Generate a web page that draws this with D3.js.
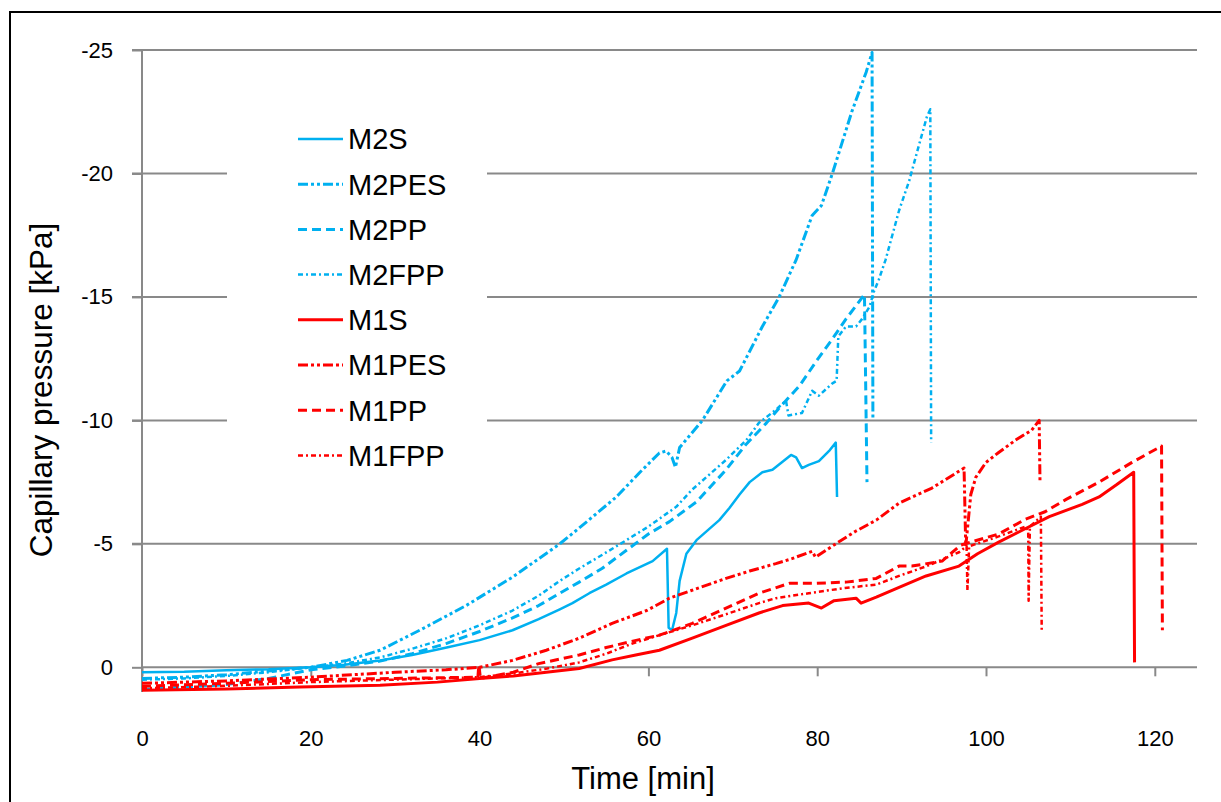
<!DOCTYPE html>
<html><head><meta charset="utf-8">
<script src="https://cdn.jsdelivr.net/npm/d3@7"></script>
<style>html,body{margin:0;padding:0;background:#fff;overflow:hidden}svg{display:block}</style>
</head><body>
<svg id="chart" width="1221" height="802"></svg>
<script>
// ---- data (time [min], capillary pressure [kPa]) ----
const xTicks = [0, 20, 40, 60, 80, 100, 120];
const yTicks = [-25, -20, -15, -10, -5, 0];
const seriesNames = ["M2S", "M2PES", "M2PP", "M2FPP", "M1S", "M1PES", "M1PP", "M1FPP"];

const m2s = [[0,0.2],[5,0.18],[10,0.12],[15,0.08],[20,0.0],[24,-0.1],[28.2,-0.28],[32,-0.5],[36.1,-0.8],[40,-1.1],[43.9,-1.5],[47,-1.95],[49.5,-2.35],[51,-2.6],[53,-3.0],[55,-3.35],[57.4,-3.8],[60.5,-4.3],[62.2,-4.8],[62.4,-1.6],[62.8,-1.5],[63.3,-2.2],[63.7,-3.5],[64.5,-4.6],[65.7,-5.15],[68.4,-5.96],[69.6,-6.45],[70.8,-7.0],[72,-7.5],[73.5,-7.9],[74.7,-8.0],[76.9,-8.6],[77.5,-8.5],[78.2,-8.07],[79,-8.2],[80.2,-8.35],[81.5,-8.8],[82.2,-9.1],[82.35,-6.9]];
const m2pes = [[0,0.45],[5,0.4],[10,0.3],[15,0.15],[20,0.0],[24.3,-0.28],[28.2,-0.69],[32.9,-1.5],[38.4,-2.5],[43.9,-3.65],[49.5,-5.0],[51.8,-5.64],[56.2,-6.9],[59,-7.9],[61.3,-8.68],[62.1,-8.76],[62.8,-8.5],[63.2,-8.1],[63.7,-8.9],[66.4,-10.0],[69.3,-11.6],[70.8,-12.0],[72,-12.8],[73.5,-13.8],[75.5,-15.0],[77.5,-16.5],[79.4,-18.3],[80.5,-18.7],[81.8,-20.0],[84.1,-22.5],[85.8,-24.1],[86.5,-24.9],[86.6,-10.1]];
const m2pp = [[0,0.9],[5,0.8],[10,0.7],[15,0.45],[20,0.1],[24,-0.05],[28.2,-0.25],[32,-0.55],[36.1,-0.97],[40,-1.45],[43.9,-2.0],[47,-2.5],[49.5,-3.0],[51.8,-3.45],[54.5,-4.0],[57.4,-4.74],[60,-5.4],[62.5,-5.9],[65.7,-6.7],[69.2,-8.0],[71.5,-9.0],[74,-9.9],[75.5,-10.5],[77.9,-11.4],[79.9,-12.4],[81.8,-13.3],[83.4,-14.1],[85.6,-15.1],[85.9,-7.5]];
const m2fpp = [[0,0.5],[5,0.45],[10,0.35],[15,0.2],[20,0.0],[24,-0.15],[28.2,-0.4],[32,-0.75],[36.1,-1.18],[40,-1.7],[43.9,-2.3],[47,-2.9],[49.5,-3.5],[51.8,-4.0],[54.5,-4.55],[57.4,-5.15],[60,-5.7],[63.3,-6.5],[65.2,-7.2],[69.2,-8.4],[71.6,-9.2],[73.1,-9.9],[75,-10.4],[76.3,-10.8],[76.6,-10.2],[78.2,-10.3],[79.4,-11.2],[80.2,-11.0],[81.8,-11.5],[82.3,-11.6],[82.5,-13.4],[83.4,-13.8],[84.6,-13.8],[85.3,-14.1],[86.2,-14.6],[86.7,-15.2],[87.3,-15.7],[88.1,-16.5],[89.7,-18.5],[90.9,-19.7],[92.1,-21.2],[93,-22.3],[93.4,-22.6],[93.5,-9.1]];
const m1s = [[0,0.93],[10,0.88],[18.7,0.8],[28.2,0.73],[35,0.6],[40,0.45],[44,0.35],[47.9,0.2],[51.8,0.05],[55.7,-0.3],[58.5,-0.5],[61.3,-0.69],[65.2,-1.18],[69.2,-1.7],[73.1,-2.2],[75.9,-2.5],[79,-2.6],[80.5,-2.4],[82,-2.7],[84.6,-2.8],[85.2,-2.6],[87,-2.84],[89.7,-3.24],[92.9,-3.7],[96.8,-4.1],[99,-4.6],[101.5,-5.07],[104,-5.5],[107.5,-6.1],[111.4,-6.6],[113.4,-6.9],[115.5,-7.4],[117.5,-7.9],[117.6,-0.2]];
const m1pes = [[0,0.65],[10,0.55],[20,0.4],[30,0.2],[36,0.1],[40,0.0],[43.9,-0.28],[47.9,-0.69],[51.8,-1.18],[55.7,-1.78],[59.8,-2.3],[62.5,-2.8],[65,-3.1],[69.2,-3.6],[72,-3.9],[75.1,-4.2],[77,-4.4],[79.4,-4.7],[79.8,-4.46],[82.2,-5.0],[84.5,-5.5],[87,-5.96],[89.7,-6.65],[93.6,-7.26],[97.4,-8.07],[97.6,-4.9],[98.2,-7.0],[98.8,-7.7],[100,-8.3],[101.5,-8.7],[103.5,-9.2],[105.4,-9.6],[106.3,-10.0],[106.4,-7.5]];
const m1pp = [[0,0.77],[10,0.65],[20,0.5],[30,0.45],[39.8,0.4],[39.9,-0.1],[40.1,0.45],[44,0.2],[47,-0.15],[51.8,-0.5],[55,-0.8],[58,-1.05],[61.3,-1.3],[65.2,-1.78],[69.2,-2.4],[73.1,-3.0],[76.7,-3.4],[79.9,-3.4],[83.4,-3.45],[87,-3.6],[89.7,-4.1],[91.2,-4.1],[94.8,-4.3],[97,-4.95],[101.5,-5.4],[104.7,-6.0],[107,-6.3],[109.5,-6.8],[113.4,-7.5],[117.3,-8.3],[120.8,-8.96],[120.9,-1.5]];
const m1fpp = [[0,0.85],[10,0.75],[20,0.6],[30,0.5],[40,0.4],[44,0.25],[48,0.05],[51.8,-0.2],[55,-0.55],[58,-0.95],[61.3,-1.3],[65.2,-1.7],[69.2,-2.15],[73.1,-2.6],[75.1,-2.8],[79,-3.0],[83,-3.2],[87,-3.35],[89.7,-3.7],[93,-4.1],[96.8,-4.66],[97.7,-4.9],[97.8,-3.1],[98,-4.9],[101.5,-5.3],[104.7,-5.7],[105,-5.55],[105.05,-2.7],[105.2,-5.7],[106.5,-6.1],[106.6,-1.5]];

const seriesData = [m2s, m2pes, m2pp, m2fpp, m1s, m1pes, m1pp, m1fpp];
const BLUE = "#00B0F0", RED = "#FF0000";
const styles = [
  {c: BLUE, w: 2.5, d: null},
  {c: BLUE, w: 3, d: "10,3,3,3,3,3"},
  {c: BLUE, w: 3, d: "9,5"},
  {c: BLUE, w: 2.5, d: "5,3,2,3"},
  {c: RED, w: 3, d: null},
  {c: RED, w: 3, d: "10,3,3,3,3,3"},
  {c: RED, w: 3, d: "9,5"},
  {c: RED, w: 2.5, d: "5,3,2,3"}
];

// ---- drawing ----
const svg = d3.select("#chart");
const FONT = "'Liberation Sans', Arial, sans-serif";
const x = d3.scaleLinear().domain([0, 125]).range([142, 1197]);
const y = d3.scaleLinear().domain([-25, 1]).range([50, 692]);
const GRID = "#898989";

// outer frame
svg.append("rect").attr("x", 10).attr("y", 12).attr("width", 1400).attr("height", 1000)
  .attr("fill", "none").attr("stroke", "#000").attr("stroke-width", 2);

// horizontal gridlines (except 0, which is the x axis)
svg.append("g").selectAll("line").data(yTicks.filter(v => v !== 0)).join("line")
  .attr("x1", 132).attr("x2", x(125)).attr("y1", d => y(d)).attr("y2", d => y(d))
  .attr("stroke", GRID).attr("stroke-width", 2);

// y axis
const yAxis = d3.axisLeft(y).tickValues(yTicks).tickSize(10).tickPadding(19).tickFormat(d => d === 0 ? "0" : String(d));
const gy = svg.append("g").attr("transform", `translate(${x(0)},0)`).call(yAxis);
gy.select(".domain").attr("stroke", GRID).attr("stroke-width", 2).attr("d", `M0,${y(-25)}V${y(1)}`);
gy.selectAll(".tick line").attr("stroke", GRID).attr("stroke-width", 2);
gy.selectAll(".tick text").attr("font-family", FONT).attr("font-size", 22).attr("fill", "#000");

// x axis at y = 0
const xAxis = d3.axisBottom(x).tickValues(xTicks).tickSize(9).tickPadding(54).tickFormat(d3.format("d"));
const gx = svg.append("g").attr("transform", `translate(0,${y(0)})`).call(xAxis);
gx.select(".domain").attr("stroke", GRID).attr("stroke-width", 2).attr("d", `M${x(0)},0H${x(125)}`);
gx.selectAll(".tick line").attr("stroke", GRID).attr("stroke-width", 2);
gx.selectAll(".tick text").attr("font-family", FONT).attr("font-size", 22).attr("fill", "#000");

// series
const line = d3.line().x(d => x(d[0])).y(d => y(d[1]));
svg.append("g").selectAll("path").data(seriesData).join("path")
  .attr("d", line)
  .attr("fill", "none")
  .attr("stroke", (d, i) => styles[i].c)
  .attr("stroke-width", (d, i) => styles[i].w)
  .attr("stroke-dasharray", (d, i) => styles[i].d)
  .attr("stroke-linejoin", "round");

// legend
const lg = svg.append("g");
lg.append("rect").attr("x", 227).attr("y", 112).attr("width", 260).attr("height", 368).attr("fill", "#fff");
const rows = lg.selectAll("g.item").data(seriesNames).join("g").attr("class", "item")
  .attr("transform", (d, i) => `translate(298,${139 + i * 45.2})`);
rows.append("line").attr("x1", 0).attr("x2", 45).attr("y1", 0).attr("y2", 0)
  .attr("stroke", (d, i) => styles[i].c)
  .attr("stroke-width", (d, i) => styles[i].w)
  .attr("stroke-dasharray", (d, i) => styles[i].d);
rows.append("text").attr("x", 50).attr("y", 0).attr("dy", "0.36em")
  .attr("font-family", FONT).attr("font-size", 29).attr("fill", "#000").text(d => d);

// axis titles
svg.append("text").attr("x", 643).attr("y", 789).attr("text-anchor", "middle")
  .attr("font-family", FONT).attr("font-size", 31).attr("fill", "#000").text("Time [min]");
svg.append("text").attr("transform", "translate(52,390) rotate(-90)").attr("text-anchor", "middle")
  .attr("font-family", FONT).attr("font-size", 31.5).attr("fill", "#000").text("Capillary pressure [kPa]");
</script>
</body></html>
